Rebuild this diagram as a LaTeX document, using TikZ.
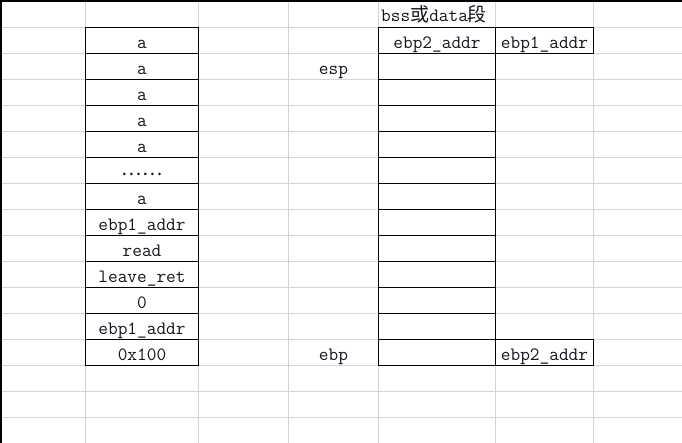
\documentclass[tikz,border=0pt]{standalone}
\usepackage{fontspec}
\newfontfamily\cjkfont{Noto Sans CJK SC}
\definecolor{gridgrey}{HTML}{D4D4D4}
\definecolor{inkcol}{HTML}{141420}
\begin{document}
\begin{tikzpicture}[x=1pt,y=-1pt,
  gridline/.style={draw=gridgrey,line width=1pt},
  cellbox/.style={draw=black,line width=1.2pt},
  celltext/.style={anchor=base,inner sep=0pt,text=inkcol,
    font=\fontsize{18.8}{20}\selectfont\ttfamily},
  cjktext/.style={celltext,font=\fontsize{19}{20}\selectfont\cjkfont}]
\useasboundingbox (0,0) rectangle (682,443);
\fill[white] (0,0) rectangle (682,443);

% sheet grid
\foreach \yy in {27.5,53.5,...,417.5}
  \draw[gridline] (0,\yy) -- (682,\yy);
\foreach \xx in {85.5,198.5,288.5,378.5,495.5,593.5}
  \draw[gridline] (\xx,0) -- (\xx,443);
\draw[black,line width=2pt] (1,443) -- (1,1) -- (682,1);

% stack column
\draw[cellbox] (85.5,27.5) rectangle (198.5,365.5);
\foreach \yy in {53.5,79.5,...,339.5}
  \draw[cellbox] (85.5,\yy) -- (198.5,\yy);
\node[celltext] (s1)  at (142,48.5)  {a};
\node[celltext] (s2)  at (142,74.5)  {a};
\node[celltext] (s3)  at (142,100.5) {a};
\node[celltext] (s4)  at (142,126.5) {a};
\node[celltext] (s5)  at (142,152.5) {a};
\node[cjktext]  (s6)  at (142,175.5) {……};
\node[celltext] (s7)  at (142,204.5) {a};
\node[celltext] (s8)  at (142,230.5) {ebp1\_addr};
\node[celltext] (s9)  at (142,256.5) {read};
\node[celltext] (s10) at (142,282.5) {leave\_ret};
\node[celltext] (s11) at (142,308.5) {0};
\node[celltext] (s12) at (142,334.5) {ebp1\_addr};
\node[celltext] (s13) at (142,360.5) {0x100};

% register labels
\node[celltext] (esp) at (333.5,74.5)  {esp};
\node[celltext] (ebp) at (333.5,360.5) {ebp};

% bss / data segment
\node[celltext,anchor=base west] (seg) at (381,22)
  {bss{\fontsize{19}{20}\selectfont\cjkfont 或}data{\fontsize{19}{20}\selectfont\cjkfont 段}};
\draw[cellbox] (378.5,27.5) rectangle (495.5,365.5);
\foreach \yy in {53.5,79.5,...,339.5}
  \draw[cellbox] (378.5,\yy) -- (495.5,\yy);
\node[celltext] (b1) at (437,48.5) {ebp2\_addr};

\draw[cellbox] (495.5,27.5) rectangle (593.5,53.5);
\node[celltext] (c1) at (544.5,48.5) {ebp1\_addr};
\draw[cellbox] (495.5,339.5) rectangle (593.5,365.5);
\node[celltext] (c2) at (544.5,360.5) {ebp2\_addr};
\end{tikzpicture}
\end{document}
